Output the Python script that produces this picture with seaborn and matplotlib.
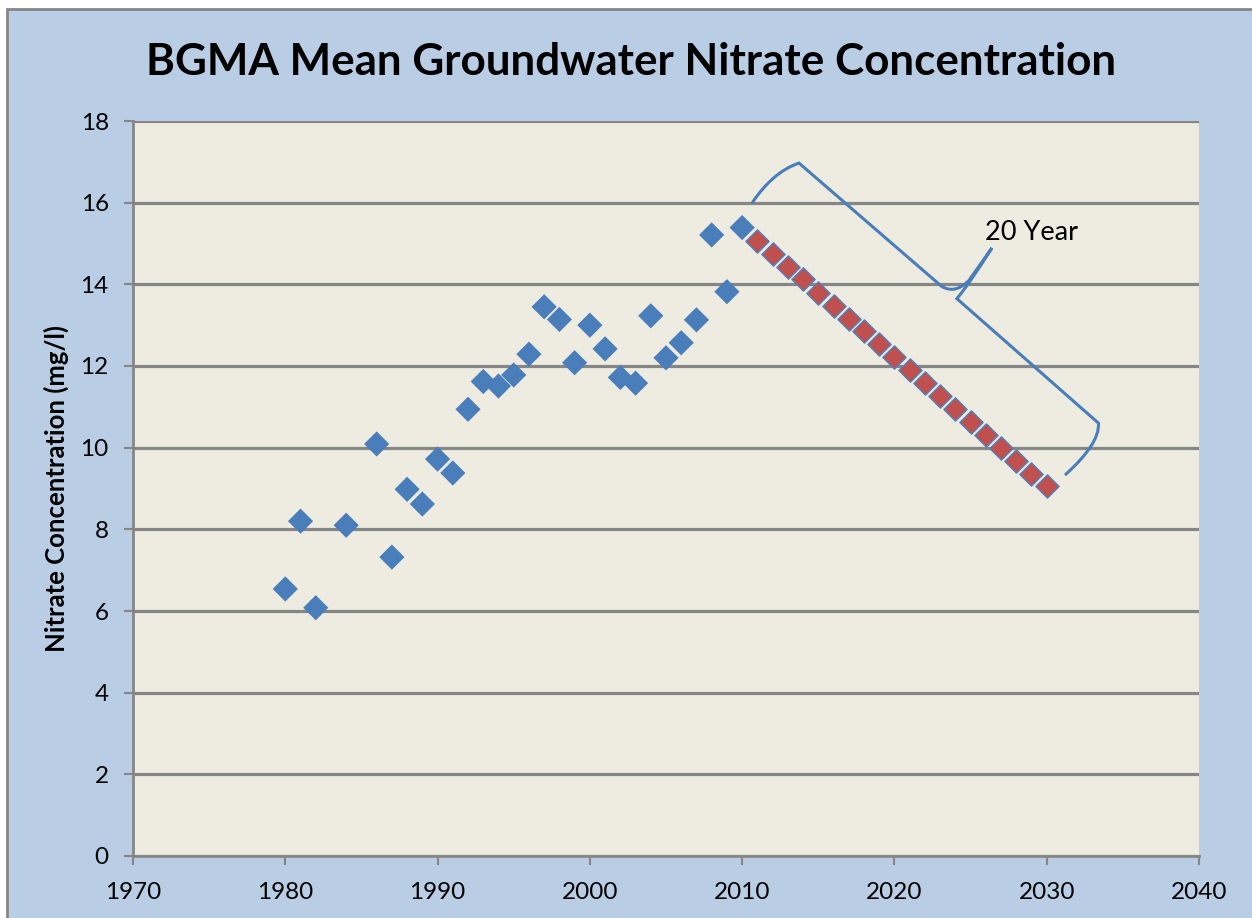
import seaborn as sns
import matplotlib.pyplot as plt
import pandas as pd
from matplotlib.path import Path
from matplotlib.patches import PathPatch, Rectangle

# measured series
years = [1980, 1981, 1982, 1984, 1986, 1987, 1988, 1989, 1990, 1991, 1992,
         1993, 1994, 1995, 1996, 1997, 1998, 1999, 2000, 2001, 2002, 2003,
         2004, 2005, 2006, 2007, 2008, 2009, 2010]
nitrate = [6.54, 8.2, 6.08, 8.1, 10.09, 7.32, 8.98, 8.62, 9.72, 9.38, 10.94,
           11.62, 11.51, 11.78, 12.29, 13.45, 13.14, 12.08, 13.0, 12.42, 11.72,
           11.58, 13.23, 12.2, 12.57, 13.13, 15.21, 13.82, 15.39]

# 20 year projection
proj_years = [2011, 2012, 2013, 2014, 2015, 2016, 2017, 2018, 2019, 2020,
              2021, 2022, 2023, 2024, 2025, 2026, 2027, 2028, 2029, 2030]
proj_nitrate = [15.07, 14.75, 14.43, 14.12, 13.80, 13.48, 13.16, 12.85, 12.53, 12.21,
                11.89, 11.58, 11.26, 10.94, 10.62, 10.31, 9.99, 9.67, 9.35, 9.06]

x_ticks = [1970, 1980, 1990, 2000, 2010, 2020, 2030, 2040]
y_ticks = [0, 2, 4, 6, 8, 10, 12, 14, 16, 18]

plt.rcParams['font.family'] = ['Lato', 'DejaVu Sans']

bg = '#B9CDE5'
grey = '#868686'

fig = plt.figure(figsize=(12.52, 9.18), dpi=100, facecolor='white')
fig.patches.append(Rectangle((7 / 1252, -0.01), 1.02, (918 - 9) / 918 + 0.01,
                             transform=fig.transFigure, facecolor=bg,
                             edgecolor=grey, linewidth=2, zorder=-5))
ax = fig.add_axes([133 / 1252, 1 - 856 / 918, (1199 - 133) / 1252, (856 - 121) / 918])
ax.set_facecolor('#EEECE1')

df = pd.DataFrame({'year': years, 'nitrate': nitrate})
dfp = pd.DataFrame({'year': proj_years, 'nitrate': proj_nitrate})

sns.scatterplot(data=df, x='year', y='nitrate', ax=ax, marker='D', s=165,
                color='#4A7EBB', edgecolor='none', zorder=3, clip_on=False)
sns.scatterplot(data=dfp, x='year', y='nitrate', ax=ax, marker='D', s=140,
                color='#C0504D', edgecolor='#4F81BD', linewidth=1.0, zorder=4)

ax.set_xlim(1970, 2040)
ax.set_ylim(0, 18)
ax.set_xticks(x_ticks)
ax.set_yticks(y_ticks)
ax.grid(axis='y', color=grey, linewidth=2.3)
ax.grid(axis='x', visible=False)
ax.set_axisbelow(True)
for s in ['top', 'right']:
    ax.spines[s].set_visible(False)
for s in ['left', 'bottom']:
    ax.spines[s].set_color(grey)
    ax.spines[s].set_linewidth(2)
ax.tick_params(axis='both', colors=grey, labelcolor='black', length=6.5, width=1.5,
               labelsize=17.5, direction='out')
ax.tick_params(axis='x', pad=12)
ax.tick_params(axis='y', pad=11)
ax.set_xlabel('')
ax.set_ylabel('Nitrate Concentration (mg/l)', fontsize=18.5, fontweight='bold', labelpad=8)

fig.text(631 / 1252, 1 - 62 / 918, 'BGMA Mean Groundwater Nitrate Concentration',
         ha='center', va='center', fontsize=31.7, fontweight='bold')

# curly bracket around the projection
verts = [(2010.65, 15.99), (2012.0, 16.75), (2013.73, 16.97),
         (2023.1, 13.95),
         (2024.0, 13.75), (2024.9, 14.1), (2026.4, 14.89),
         (2024.9, 14.0), (2024.1, 13.65),
         (2033.4, 10.6),
         (2033.5, 10.1), (2031.2, 9.33)]
codes = [Path.MOVETO, Path.CURVE3, Path.CURVE3,
         Path.LINETO,
         Path.CURVE3, Path.CURVE3, Path.LINETO,
         Path.CURVE3, Path.CURVE3,
         Path.LINETO,
         Path.CURVE3, Path.CURVE3]
ax.add_patch(PathPatch(Path(verts, codes), facecolor='none', edgecolor='#4A7EBB',
                       linewidth=2.2, zorder=5, clip_on=False))
ax.text(2029.0, 15.28, '20 Year', ha='center', va='center', fontsize=19.5)

fig.savefig('out.png', dpi=100, facecolor=fig.get_facecolor())
